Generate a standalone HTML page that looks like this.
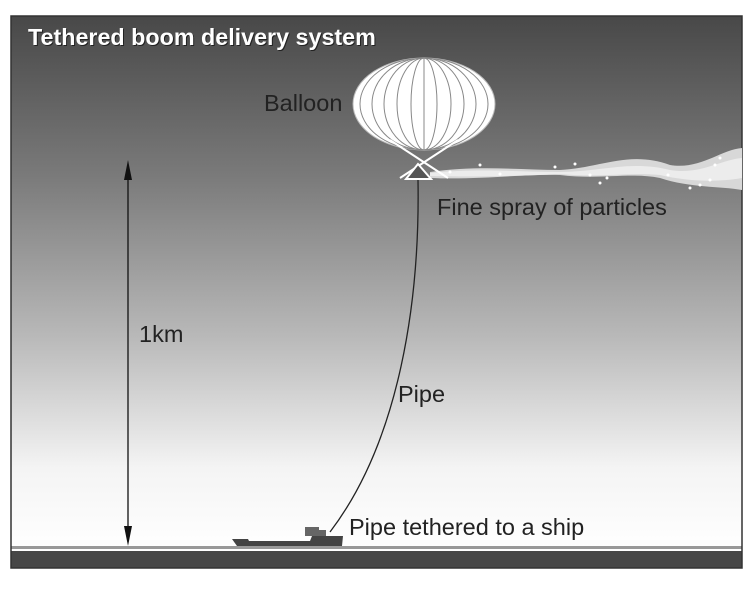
<!DOCTYPE html>
<html><head><meta charset="utf-8"><style>
html,body{margin:0;padding:0;background:#fff;width:754px;height:590px;overflow:hidden}
svg{display:block}
</style></head><body>
<svg width="754" height="590" viewBox="0 0 754 590" xmlns="http://www.w3.org/2000/svg">
<defs>
<linearGradient id="sky" x1="0" y1="0" x2="0" y2="1">
<stop offset="0" stop-color="#484848"/>
<stop offset="0.3" stop-color="#7a7a7a"/>
<stop offset="0.6" stop-color="#b8b8b8"/>
<stop offset="0.85" stop-color="#f4f4f4"/>
<stop offset="1" stop-color="#ffffff"/>
</linearGradient>
<clipPath id="bc"><ellipse cx="424" cy="104" rx="71" ry="46"/></clipPath>
</defs>
<rect x="11" y="16" width="731" height="532" fill="url(#sky)"/>
<rect x="11" y="546" width="731" height="3" fill="#999"/>
<rect x="11" y="549" width="731" height="2" fill="#fff"/>
<rect x="11" y="551" width="731" height="17" fill="#474747"/>
<rect x="11" y="16" width="731" height="552" fill="none" stroke="#333" stroke-width="1.5"/>
<text x="29" y="46" font-family="Liberation Sans, sans-serif" font-weight="bold" font-size="23.3" fill="#222">Tethered boom delivery system</text>
<text x="28" y="45" font-family="Liberation Sans, sans-serif" font-weight="bold" font-size="23.3" fill="#fff">Tethered boom delivery system</text>
<path d="M430 172 C480 165 520 170 560 170 C600 168 630 150 670 165 C700 170 720 150 742 148 L742 190 C720 186 690 188 660 178 C630 172 600 180 560 175 C520 174 480 180 430 178 Z" fill="#d8d8d8"/>
<path d="M430 173 C480 168 520 172 560 172 C600 172 630 160 670 170 C700 175 720 160 742 158 L742 178 C720 182 690 182 660 175 C630 172 600 178 560 174 C520 176 480 177 430 176 Z" fill="#ececec"/>
<g fill="#fff">
<circle cx="450" cy="172" r="1.5"/><circle cx="480" cy="165" r="1.5"/><circle cx="500" cy="174" r="1.5"/><circle cx="555" cy="167" r="1.5"/><circle cx="575" cy="164" r="1.5"/><circle cx="590" cy="175" r="1.5"/><circle cx="600" cy="183" r="1.5"/><circle cx="607" cy="178" r="1.5"/><circle cx="668" cy="175" r="1.5"/><circle cx="690" cy="188" r="1.5"/><circle cx="700" cy="185" r="1.5"/><circle cx="710" cy="180" r="1.5"/><circle cx="715" cy="165" r="1.5"/><circle cx="720" cy="158" r="1.5"/>
</g>
<ellipse cx="424" cy="104" rx="71" ry="46" fill="#fff" stroke="#bbb" stroke-width="1"/>
<g clip-path="url(#bc)" fill="none" stroke="#888" stroke-width="1">
<ellipse cx="424" cy="104" rx="64" ry="46"/><ellipse cx="424" cy="104" rx="52" ry="46"/><ellipse cx="424" cy="104" rx="40" ry="46"/><ellipse cx="424" cy="104" rx="27" ry="46"/><ellipse cx="424" cy="104" rx="13" ry="46"/><line x1="424" y1="58" x2="424" y2="150"/>
</g>
<path d="M390 140 L448 178 M458 140 L400 178" stroke="#fff" stroke-width="2"/>
<path d="M418 164 L406 179 L431 179 Z" fill="#555" stroke="#fff" stroke-width="2"/>
<path d="M418 180 C420 300 400 440 330 532" fill="none" stroke="#222" stroke-width="1.3"/>
<path d="M232 539 L248 539 L249 541 L310 541 L312 536 L343 536 L342 546 L237 546 Z" fill="#444"/>
<rect x="305" y="527" width="14" height="9" fill="#666"/>
<rect x="316" y="530" width="10" height="6" fill="#666"/>
<line x1="128" y1="170" x2="128" y2="540" stroke="#111" stroke-width="1.3"/>
<path d="M128 160 L124 180 L132 180 Z" fill="#111"/>
<path d="M128 546 L124 526 L132 526 Z" fill="#111"/>
<g font-family="Liberation Sans, sans-serif" font-size="23.5" fill="#222">
<text x="264" y="111">Balloon</text>
<text x="437" y="215">Fine spray of particles</text>
<text x="139" y="342">1km</text>
<text x="398" y="402">Pipe</text>
<text x="349" y="535">Pipe tethered to a ship</text>
</g>
</svg>
</body></html>
